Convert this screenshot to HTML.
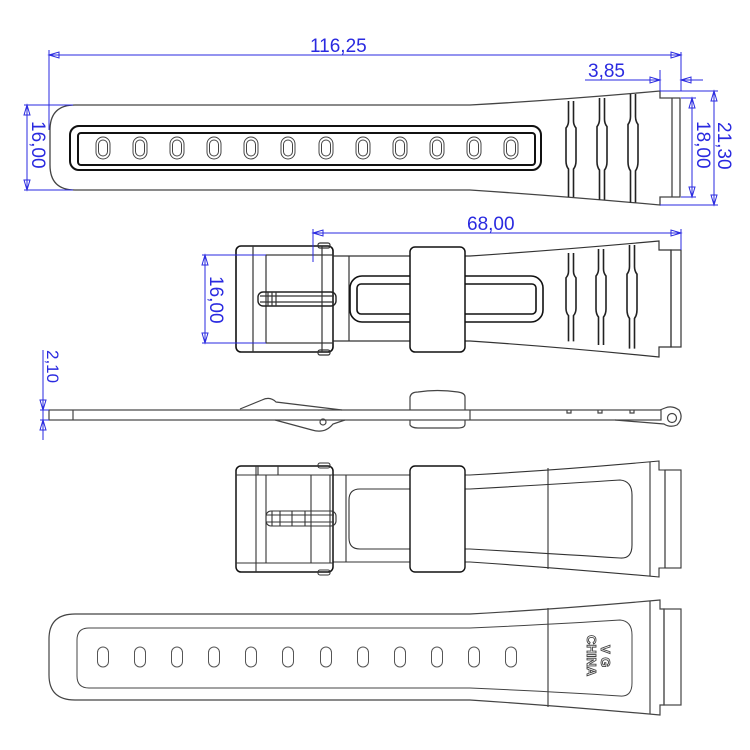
<!DOCTYPE html>
<html><head><meta charset="utf-8"><style>
html,body{margin:0;padding:0;background:#fff}
svg{display:block}
text{font-family:"Liberation Sans",sans-serif;fill:#2a2ae0;font-size:19px}
</style></head><body>
<svg width="750" height="750" viewBox="0 0 750 750" xmlns="http://www.w3.org/2000/svg">
<defs>
<g id="bar">
<path d="M-2.5,0 V20 Q-2.5,24 -5,27 V60 Q-5,65 -2.5,68 V96 M2.5,0 V20 Q2.5,24 5,27 V60 Q5,65 2.5,68 V96" fill="none" stroke="#222" stroke-width="1.6"/>
</g>
<g id="hole1"><rect x="-7" y="-11" width="14" height="22" rx="7" fill="none" stroke="#444" stroke-width="1"/><rect x="-4.5" y="-8" width="9" height="16" rx="4.5" fill="none" stroke="#444" stroke-width="1"/></g>
<g id="hole2"><rect x="-5.5" y="-10" width="11" height="20" rx="5.5" fill="none" stroke="#555" stroke-width="1"/></g>
</defs>

<!-- ============ VIEW 1 ============ -->
<g fill="none" stroke="#444" stroke-width="1.3">
<path d="M75,105 H470 Q560,100 660,91 V98 H680 V197 H660 V205 Q560,196 470,190 H75 Q50,190 50,165 V130 Q50,105 75,105 Z"/>
<line x1="672" y1="98" x2="672" y2="197"/>
<rect x="70" y="126" width="471" height="44" rx="9" stroke="#111" stroke-width="2"/>
<rect x="78" y="133" width="457" height="32" rx="3" stroke="#111" stroke-width="2"/>
</g>
<g>
<use href="#hole1" x="103" y="148"/><use href="#hole1" x="140" y="148"/><use href="#hole1" x="177" y="148"/><use href="#hole1" x="214" y="148"/><use href="#hole1" x="251" y="148"/><use href="#hole1" x="288" y="148"/><use href="#hole1" x="326" y="148"/><use href="#hole1" x="363" y="148"/><use href="#hole1" x="400" y="148"/><use href="#hole1" x="437" y="148"/><use href="#hole1" x="474" y="148"/><use href="#hole1" x="511" y="148"/>
</g>
<use href="#bar" x="571" y="101" transform="translate(0,0)"/>
<g transform="translate(602,98) scale(1,1.06)"><use href="#bar"/></g>
<g transform="translate(633,94) scale(1,1.13)"><use href="#bar"/></g>
<!-- dims view1 -->
<g stroke="#2a2ae0" stroke-width="1" fill="none">
<line x1="49" y1="55" x2="681" y2="55"/><line x1="49" y1="50" x2="49" y2="130"/><line x1="681" y1="52" x2="681" y2="91"/>
<path d="M49,55 l10,-3 v6 z M681,55 l-10,-3 v6 z"/>
<line x1="585" y1="80" x2="660" y2="80"/><line x1="660" y1="70" x2="660" y2="91"/><line x1="681" y1="80" x2="703" y2="80"/>
<path d="M660,80 l-10,-3 v6 z M681,80 l10,-3 v6 z"/>
<line x1="24" y1="105" x2="73" y2="105"/><line x1="24" y1="190" x2="73" y2="190"/><line x1="27" y1="105" x2="27" y2="190"/>
<path d="M27,105 l-3,10 h6 z M27,190 l-3,-10 h6 z"/>
<line x1="660" y1="91" x2="718" y2="91"/><line x1="660" y1="205" x2="718" y2="205"/><line x1="714" y1="91" x2="714" y2="205"/>
<path d="M714,91 l-3,10 h6 z M714,205 l-3,-10 h6 z"/>
<line x1="681" y1="98" x2="696" y2="98"/><line x1="681" y1="197" x2="696" y2="197"/><line x1="692" y1="98" x2="692" y2="197"/>
<path d="M692,98 l-3,10 h6 z M692,197 l-3,-10 h6 z"/>
</g>
<text x="310" y="52">116,25</text>
<text x="588" y="77">3,85</text>
<text transform="translate(32,121) rotate(90)">16,00</text>
<text transform="translate(697,121) rotate(90)">18,00</text>
<text transform="translate(718,122) rotate(90)">21,30</text>

<!-- ============ VIEW 2 ============ -->
<g fill="none" stroke="#333" stroke-width="1.2">
<path d="M333,256 H470 Q560,250 659,241 V250 H671 V347 H659 V357 Q560,347 470,341 H333"/>
<rect x="671" y="250" width="10" height="97"/>
<line x1="349" y1="256" x2="349" y2="341"/>
<rect x="236" y="246" width="97" height="106" rx="5" stroke="#111" stroke-width="1.6"/>
<line x1="253" y1="246" x2="253" y2="352"/>
<rect x="266" y="255" width="67" height="88"/>
<line x1="322" y1="246" x2="322" y2="352"/>
<rect x="318" y="243" width="12" height="5" rx="2"/><rect x="318" y="350" width="12" height="5" rx="2"/>
<rect x="258" y="292" width="78" height="14" rx="5" stroke="#222" stroke-width="1.4"/>
<line x1="268" y1="292" x2="268" y2="306"/><line x1="272" y1="292" x2="272" y2="306"/><line x1="276" y1="292" x2="276" y2="306"/>
<line x1="260" y1="296" x2="334" y2="296"/><line x1="260" y1="302" x2="334" y2="302"/>
<rect x="350" y="276" width="193" height="46" rx="12" stroke="#111" stroke-width="1.6"/>
<rect x="357" y="284" width="179" height="30" rx="4" stroke="#111" stroke-width="1.6"/>
<rect x="410" y="247" width="55" height="105" rx="5" fill="#fff" stroke="#111" stroke-width="1.5"/>
</g>
<g transform="translate(571,253) scale(1,0.92)"><use href="#bar"/></g>
<g transform="translate(601,249) scale(1,1)"><use href="#bar"/></g>
<g transform="translate(632,245) scale(1,1.08)"><use href="#bar"/></g>
<g stroke="#2a2ae0" stroke-width="1" fill="none">
<line x1="313" y1="233" x2="681" y2="233"/><line x1="313" y1="229" x2="313" y2="262"/><line x1="681" y1="229" x2="681" y2="250"/>
<path d="M313,233 l10,-3 v6 z M681,233 l-10,-3 v6 z"/>
<line x1="202" y1="255" x2="266" y2="255"/><line x1="202" y1="343" x2="266" y2="343"/><line x1="205" y1="255" x2="205" y2="343"/>
<path d="M205,255 l-3,10 h6 z M205,343 l-3,-10 h6 z"/>
</g>
<text x="467" y="230">68,00</text>
<text transform="translate(210,276) rotate(90)">16,00</text>

<!-- ============ VIEW 3 (side) ============ -->
<g fill="none" stroke="#444" stroke-width="1.2">
<rect x="49" y="410" width="612" height="10"/>
<line x1="73" y1="410" x2="73" y2="420"/>
<line x1="470" y1="410" x2="470" y2="420"/>
<path d="M240,409 L262,400 Q270,396 276,402 L342,410"/>
<path d="M275,420 L312,430 Q325,434 333,424 L345,420"/>
<circle cx="323" cy="422" r="3"/>
<path d="M410,410 V397 Q411,392 418,392 Q437,389 458,392 Q465,393 465,397 V410 M410,420 V425 Q412,428 418,428 H458 Q465,428 465,424 V420"/>
<path d="M567,410 v3 h4 v-3 M598,410 v3 h4 v-3 M630,410 v3 h4 v-3"/>
<path d="M660,410 L665,408 Q672,405 679,410 Q684,418 677,425 Q670,428 664,424 L615,420"/>
<circle cx="672" cy="418" r="4.5"/>
</g>
<g stroke="#2a2ae0" stroke-width="1" fill="none">
<line x1="43" y1="350" x2="43" y2="440"/><line x1="40" y1="410" x2="49" y2="410"/><line x1="40" y1="420" x2="49" y2="420"/>
<path d="M43,410 l-3,-10 h6 z M43,420 l-3,10 h6 z"/>
</g>
<text transform="translate(47,350) rotate(90)" style="font-size:17px">2,10</text>

<!-- ============ VIEW 4 ============ -->
<g fill="none" stroke="#333" stroke-width="1.1">
<path d="M333,475 H470 Q560,470 659,461 V470 H665 V568 H659 V577 Q560,568 470,562 H333"/>
<rect x="665" y="470" width="16" height="98"/>
<line x1="548" y1="468" x2="548" y2="569"/><line x1="650" y1="462" x2="650" y2="576"/>
<line x1="346" y1="475" x2="346" y2="562"/>
<path d="M360,489 H470 Q560,484 620,480 Q632,481 632,495 V545 Q632,559 620,558 Q560,554 470,549 H360 Q349,549 349,538 V500 Q349,489 360,489 Z"/>
<rect x="236" y="466" width="97" height="106" rx="5" stroke="#111" stroke-width="1.5"/>
<line x1="236" y1="475" x2="333" y2="475"/><line x1="236" y1="563" x2="333" y2="563"/>
<line x1="256" y1="466" x2="256" y2="572"/><line x1="266" y1="475" x2="266" y2="563"/>
<line x1="311" y1="475" x2="311" y2="563"/><line x1="330" y1="475" x2="330" y2="563"/>
<line x1="258" y1="466" x2="258" y2="475"/><line x1="278" y1="466" x2="278" y2="475"/>
<rect x="318" y="463" width="12" height="5" rx="2"/><rect x="318" y="570" width="12" height="5" rx="2"/>
<rect x="266" y="511" width="70" height="15" rx="5"/>
<line x1="266" y1="515" x2="334" y2="515"/><line x1="266" y1="522" x2="334" y2="522"/>
<line x1="272" y1="511" x2="272" y2="526"/><line x1="280" y1="511" x2="280" y2="526"/><line x1="292" y1="511" x2="292" y2="526"/><line x1="305" y1="511" x2="305" y2="526"/>
<rect x="410" y="466" width="55" height="106" rx="5" fill="#fff" stroke="#111" stroke-width="1.4"/>
</g>

<!-- ============ VIEW 5 ============ -->
<g fill="none" stroke="#444" stroke-width="1.2">
<path d="M75,614 H470 Q560,609 660,600 V609 H664 V705 H660 V715 Q560,706 470,700 H75 Q49,700 49,675 V639 Q49,614 75,614 Z"/>
<rect x="664" y="609" width="17" height="96"/>
<line x1="548" y1="608" x2="548" y2="707"/><line x1="650" y1="601" x2="650" y2="714"/>
<path d="M89,628 H470 Q560,624 620,620 Q632,621 632,635 V683 Q632,697 620,696 Q560,692 470,688 H89 Q77,688 77,676 V640 Q77,628 89,628 Z" stroke-width="1"/>
</g>
<g>
<use href="#hole2" x="103" y="657"/><use href="#hole2" x="140" y="657"/><use href="#hole2" x="177" y="657"/><use href="#hole2" x="214" y="657"/><use href="#hole2" x="251" y="657"/><use href="#hole2" x="288" y="657"/><use href="#hole2" x="326" y="657"/><use href="#hole2" x="363" y="657"/><use href="#hole2" x="400" y="657"/><use href="#hole2" x="437" y="657"/><use href="#hole2" x="474" y="657"/><use href="#hole2" x="511" y="657"/>
</g>
<g style="font-size:13px;font-weight:bold;fill:#fff;stroke:#444;stroke-width:0.9">
<text transform="translate(601,645) rotate(90)" style="fill:#fff;font-size:13px;font-weight:bold">V G</text>
<text transform="translate(587,635) rotate(90)" style="fill:#fff;font-size:13px;font-weight:bold">CHINA</text>
</g>
</svg>
</body></html>
